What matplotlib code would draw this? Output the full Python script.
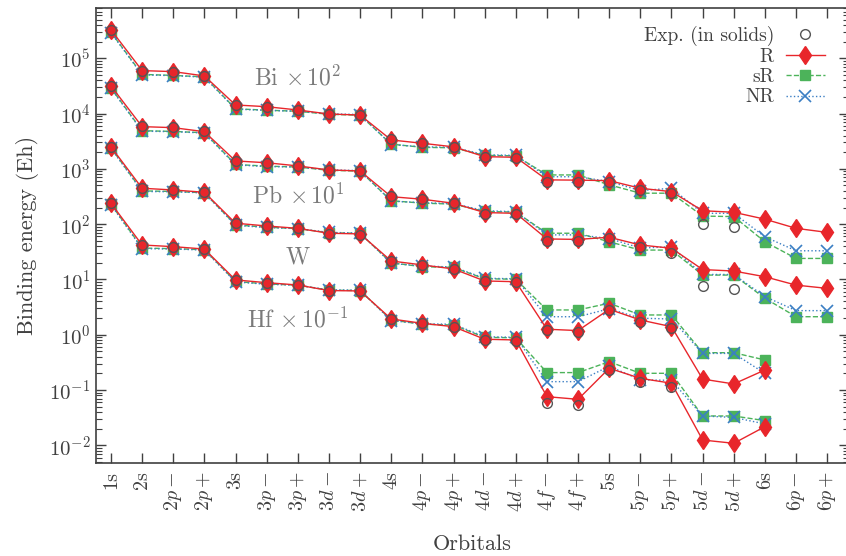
import numpy as np
import matplotlib
matplotlib.use("Agg")
import matplotlib.pyplot as plt
from matplotlib.ticker import LogLocator, NullFormatter

plt.rcParams['font.family'] = 'serif'
plt.rcParams['font.serif'] = ['cmr10', 'DejaVu Serif']
plt.rcParams['mathtext.fontset'] = 'cm'
plt.rcParams['axes.formatter.use_mathtext'] = True
plt.rcParams['axes.unicode_minus'] = False

nan = np.nan

orbitals = ['1s', '2s', r'$2p-$', r'$2p+$', '3s', r'$3p-$', r'$3p+$', r'$3d-$', r'$3d+$',
            '4s', r'$4p-$', r'$4p+$', r'$4d-$', r'$4d+$', r'$4f-$', r'$4f+$',
            '5s', r'$5p-$', r'$5p+$', r'$5d-$', r'$5d+$', '6s', r'$6p-$', r'$6p+$']

# Bi x 10^2
bi_exp = [3.26e5, 6.0e4, 5.75e4, 4.8e4, 1.45e4, 1.34e4, 1.16e4, 9.7e3, 9.3e3, 3.4e3, 2.95e3, 2.5e3,
          1.62e3, 1.58e3, 590, 590, 570, 415, 360, 101, 88, nan, nan, nan]
bi_r = [3.27e5, 5.98e4, 5.73e4, 4.79e4, 1.43e4, 1.33e4, 1.16e4, 9.8e3, 9.4e3, 3.33e3, 2.9e3, 2.5e3,
        1.66e3, 1.62e3, 632, 625, 612, 446, 387, 175, 164, 123, 84, 71]
bi_sr = [2.95e5, 5.1e4, 4.9e4, 4.6e4, 1.22e4, 1.15e4, 1.1e4, 9.7e3, 9.3e3, 2.8e3, 2.45e3, 2.4e3,
         1.75e3, 1.72e3, 776, 776, 514, 363, 363, 140, 137, 48, 24, 24]
bi_nr = [2.9e5, 5.0e4, 4.85e4, 4.55e4, 1.2e4, 1.14e4, 1.1e4, 9.9e3, 9.6e3, 2.75e3, 2.5e3, 2.45e3,
         1.8e3, 1.75e3, 720, 720, 590, 404, 446, 157, 157, 59, 33, 33]

# Pb x 10^1
pb_exp = [3.15e4, 5.9e3, 5.6e3, 4.75e3, 1.4e3, 1.3e3, 1.14e3, 940, 900, 320, 287, 240,
          155, 150, 50, 50, 56, 39, 30.6, 7.7, 6.8, nan, nan, nan]
pb_r = [3.16e4, 5.8e3, 5.56e3, 4.7e3, 1.39e3, 1.29e3, 1.13e3, 955, 916, 314, 282, 239,
        162, 157, 54, 53, 58, 42, 36.7, 15.1, 14.2, 11.2, 7.9, 6.9]
pb_sr = [2.9e4, 4.9e3, 4.75e3, 4.5e3, 1.2e3, 1.12e3, 1.08e3, 940, 910, 265, 240, 230,
         170, 165, 68.5, 68.5, 48, 34, 34, 12, 12, 4.57, 2.12, 2.12]
pb_nr = [2.85e4, 4.8e3, 4.7e3, 4.45e3, 1.18e3, 1.1e3, 1.08e3, 960, 930, 260, 245, 235,
         175, 168, 64, 64, 55, 37, 39, 12.3, 12.3, 4.9, 2.73, 2.73]

# W
w_exp = [2.53e3, 445, 415, 375, 104, 93, 84, 67, 65, 22, 18.5, 15.5,
         9.2, 8.9, 1.2, 1.14, 2.82, 1.68, 1.32, nan, nan, nan, nan, nan]
w_r = [2.5e3, 446, 415, 377, 104, 92.7, 84, 68.5, 66.6, 21.6, 18.3, 15.5,
       9.4, 9.1, 1.26, 1.19, 2.89, 1.85, 1.40, 0.158, 0.129, 0.231, nan, nan]
w_sr = [2.4e3, 400, 390, 370, 97, 88, 83, 70, 68, 20, 17, 16.5,
        10.3, 10.1, 2.81, 2.81, 3.72, 2.28, 2.28, 0.474, 0.474, 0.35, nan, nan]
w_nr = [2.35e3, 390, 385, 368, 95, 87, 83, 71, 69, 19.5, 17.5, 16.8,
        10.5, 10.3, 2.12, 2.12, 2.95, 1.99, 1.93, 0.46, 0.46, 0.2, nan, nan]

# Hf x 10^-1
hf_exp = [240, 42, 39, 35, 9.7, 8.7, 7.9, 6.2, 6.1, 1.95, 1.62, 1.4,
          0.8, 0.78, 0.059, 0.054, 0.229, 0.142, 0.112, nan, nan, nan, nan, nan]
hf_r = [239, 42, 39.2, 35.5, 9.8, 8.75, 7.94, 6.3, 6.2, 1.93, 1.61, 1.4,
        0.83, 0.805, 0.076, 0.068, 0.248, 0.163, 0.133, 0.0125, 0.0109, 0.0218, nan, nan]
hf_sr = [230, 37, 36, 34.5, 9.2, 8.3, 7.9, 6.4, 6.3, 1.85, 1.55, 1.5,
         0.9, 0.88, 0.207, 0.207, 0.326, 0.201, 0.201, 0.034, 0.034, 0.028, nan, nan]
hf_nr = [225, 36, 35.5, 34, 9.0, 8.2, 7.85, 6.5, 6.4, 1.8, 1.58, 1.55,
         0.92, 0.9, 0.142, 0.142, 0.27, 0.153, 0.15, 0.034, 0.032, 0.0244, nan, nan]

elements = [
    (r'Bi $\times\,10^2$', 4.4e4, bi_exp, bi_r, bi_sr, bi_nr),
    (r'Pb $\times\,10^1$', 330, pb_exp, pb_r, pb_sr, pb_nr),
    ('W', 25, w_exp, w_r, w_sr, w_nr),
    (r'Hf $\times\,10^{-1}$', 1.85, hf_exp, hf_r, hf_sr, hf_nr),
]

red = '#e8262b'
green = '#4cb35a'
blue = '#3b7fc4'
dark = '#404040'

fig = plt.figure(figsize=(8.46, 5.56), dpi=100)
ax = fig.add_axes([96 / 846, 1 - 463 / 556, (849 - 96) / 846, (463 - 8) / 556])
x = np.arange(len(orbitals))

for i, (name, ylab, e, r, s, n) in enumerate(elements):
    first = i == 0
    ax.plot(x, s, color=green, ls='--', lw=1, marker='s', ms=7, zorder=2,
            label='sR' if first else None)
    ax.plot(x, n, color=blue, ls=':', lw=1, marker='x', ms=8, mew=1.2, zorder=3,
            label='NR' if first else None)
    ax.plot(x, r, color=red, ls='-', lw=1, marker='d', ms=9.5, zorder=4,
            label='R' if first else None)
    ax.plot(x, e, ls='none', marker='o', ms=7, mfc='none', mec='#555555', mew=1,
            zorder=5, label='Exp. (in solids)' if first else None)
    ax.text(6, ylab, name, ha='center', va='center', fontsize=17, color='#7a7a7a')

ax.set_yscale('log')
ax.set_ylim(4.8e-3, 8.1e5)
ax.set_xlim(-0.48, 23.7)
ax.set_xticks(x)
ax.set_xticklabels(orbitals, rotation=90, fontsize=14.5, color=dark)
ax.yaxis.set_major_locator(LogLocator(base=10, numticks=20))
ax.yaxis.set_minor_locator(LogLocator(base=10, subs=np.arange(2, 10), numticks=20))
ax.yaxis.set_minor_formatter(NullFormatter())
ax.tick_params(axis='y', which='major', labelsize=15, labelcolor=dark, pad=4)
ax.tick_params(axis='x', which='major', pad=6)
ax.tick_params(which='major', direction='in', length=7, width=1, color=dark,
               top=True, right=True)
ax.tick_params(which='minor', direction='in', length=4, width=0.8, color=dark,
               right=True)
ax.tick_params(axis='x', which='minor', bottom=False, top=False)
for sp in ax.spines.values():
    sp.set_color(dark)
    sp.set_linewidth(1.2)

ax.set_ylabel('Binding energy (Eh)', fontsize=16, color=dark, labelpad=7)
ax.set_xlabel('Orbitals', fontsize=16, color=dark, labelpad=16)

handles, labels = ax.get_legend_handles_labels()
order = [labels.index(k) for k in ['Exp. (in solids)', 'R', 'sR', 'NR']]
ax.legend([handles[k] for k in order], [labels[k] for k in order],
          loc='upper right', bbox_to_anchor=(0.993, 0.982), bbox_transform=fig.transFigure,
          frameon=False, markerfirst=False, fontsize=14, labelspacing=0.12,
          handlelength=2.0, handletextpad=0.6, borderpad=0.3, labelcolor=dark)

fig.savefig('out.png', dpi=100)
